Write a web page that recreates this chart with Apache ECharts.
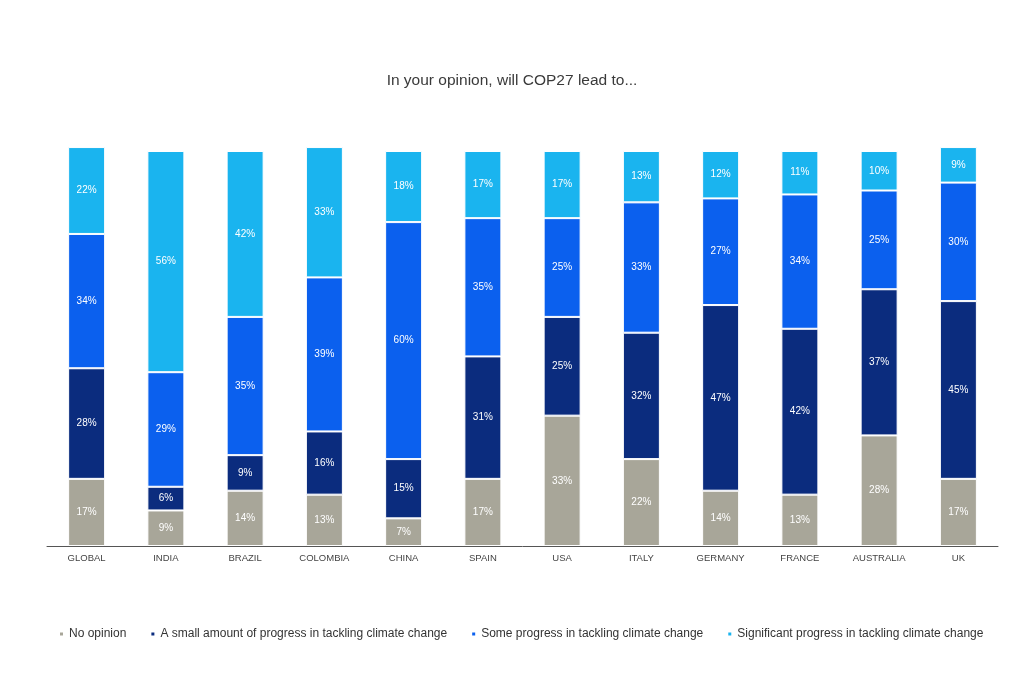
<!DOCTYPE html>
<html><head><meta charset="utf-8">
<script src="https://cdn.jsdelivr.net/npm/echarts@6/dist/echarts.min.js"></script>
<style>html,body{margin:0;padding:0;background:#fff}#c{width:1024px;height:674px}</style>
</head><body><div id="c"></div>
<script>
const categories = ["GLOBAL","INDIA","BRAZIL","COLOMBIA","CHINA","SPAIN","USA","ITALY","GERMANY","FRANCE","AUSTRALIA","UK"];
const noOpinion   = [17, 9, 14, 13, 7, 17, 33, 22, 14, 13, 28, 17];
const smallAmount = [28, 6, 9, 16, 15, 31, 25, 32, 47, 42, 37, 45];
const someProg    = [34, 29, 35, 39, 60, 35, 25, 33, 27, 34, 25, 30];
const significant = [22, 56, 42, 33, 18, 17, 17, 13, 12, 11, 10, 9];
const seriesNames = ["No opinion","A small amount of progress in tackling climate change","Some progress in tackling climate change","Significant progress in tackling climate change"];
const colors = ["#a8a699","#0b2c7e","#0b60ee","#1ab4ef"];
const data = [noOpinion, smallAmount, someProg, significant];

const chart = echarts.init(document.getElementById('c'));
chart.setOption({
  animation: false,
  title: {text: "In your opinion, will COP27 lead to...", left: 'center', top: 68,
    textStyle: {fontFamily: 'Liberation Sans, Arial, sans-serif', fontSize: 15.5, fontWeight: 'normal', color: '#3a3a3a'}},
  legend: {bottom: 29, left: 53, itemWidth: 5, itemHeight: 5, itemGap: 23, icon: 'rect',
    textStyle: {fontFamily: 'Liberation Sans Narrow, Liberation Sans, Arial, sans-serif', fontSize: 12, color: '#333'},
    data: seriesNames},
  grid: {left: 47, right: 26, top: 151, bottom: 128},
  xAxis: {type: 'category', data: categories,
    axisLine: {lineStyle: {color: '#555', width: 1}}, axisTick: {show: false},
    axisLabel: {fontFamily: 'Liberation Sans, Arial, sans-serif', fontSize: 9.5, color: '#444', margin: 7}},
  yAxis: {type: 'value', min: 0, max: 100, show: false, splitLine: {show: false}},
  series: data.map((d, i) => ({
    name: seriesNames[i], type: 'bar', stack: 'a', data: d, barWidth: 37, clip: false,
    itemStyle: {color: colors[i], borderColor: '#fff', borderWidth: 1},
    label: {show: true, position: 'inside', formatter: '{c}%', color: '#fff',
      fontFamily: 'Liberation Sans, Arial, sans-serif', fontSize: 10}
  }))
});
</script></body></html>
